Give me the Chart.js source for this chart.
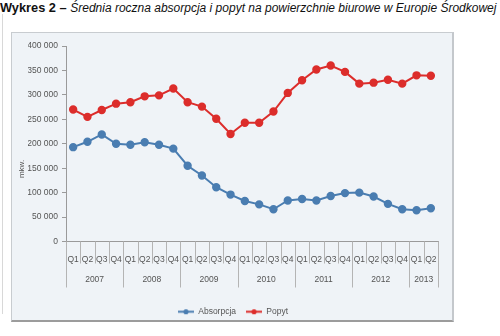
<!DOCTYPE html>
<html>
<head>
<meta charset="utf-8">
<script src="https://cdn.jsdelivr.net/npm/chart.js@4.4.0/dist/chart.umd.min.js"></script>
<style>
  html, body { margin: 0; padding: 0; background: #fff; }
  body { width: 500px; height: 336px; position: relative; overflow: hidden; font-family: "Liberation Sans", Arial, sans-serif; }
  .title { position: absolute; left: 0; top: 0; font-size: 12px; white-space: nowrap; color: #111; }
  .title b { font-weight: bold; font-size: 12.8px; }
  .title i { font-style: italic; }
  .edge { position: absolute; left: 2px; top: 14px; width: 1px; height: 300px; background: #d8d8d8; }
  .box { position: absolute; left: 11px; top: 32px; width: 440px; height: 287px; background: #eff3f7;
         border: 1px solid #c8ccd0; border-right: 2px solid #c4c8cc; border-bottom: 2px solid #9c9c9c; }
  .box canvas { position: absolute; left: 0; top: 0; }
</style>
</head>
<body>
<div class="title"><b>Wykres 2 – </b><i>Średnia roczna absorpcja i popyt na powierzchnie biurowe w Europie Środkowej</i></div>
<div class="edge"></div>
<div class="box"><canvas id="chart" width="440" height="293"></canvas></div>
<script>
// kwartały 2007 Q1 – 2013 Q2
const quarters = [
  "Q1", "Q2", "Q3", "Q4", "Q1", "Q2", "Q3", "Q4", "Q1", "Q2", "Q3", "Q4", "Q1",
  "Q2", "Q3", "Q4", "Q1", "Q2", "Q3", "Q4", "Q1", "Q2", "Q3", "Q4", "Q1", "Q2"
];
const years = ["2007", "2008", "2009", "2010", "2011", "2012", "2013"];
const quartersPerYear = [4, 4, 4, 4, 4, 4, 2];

// mkw.
const absorpcja = [
  193000, 204000, 219000, 200000, 198000, 203000, 198000, 190000,
  155000, 135000, 111000, 96000, 83000, 76000, 66000, 84000,
  87000, 84000, 93000, 99000, 100000, 92000, 77000, 66000, 64000, 68000
];
const popyt = [
  270000, 255000, 269000, 282000, 285000, 297000, 299000, 313000,
  285000, 276000, 251000, 220000, 243000, 243000, 266000, 304000,
  330000, 352000, 360000, 347000, 323000, 325000, 331000, 323000, 340000, 339000
];

const BLUE = "#4a7db1";
const RED = "#dc2d2b";
const GREY = "#9a9a9a";
const FONT = "'Liberation Sans', Arial, sans-serif";

function legendIcon(color) {
  const c = document.createElement("canvas");
  c.width = 16; c.height = 7;
  const ctx = c.getContext("2d");
  ctx.strokeStyle = color; ctx.lineWidth = 2;
  ctx.beginPath(); ctx.moveTo(0, 3.5); ctx.lineTo(16, 3.5); ctx.stroke();
  ctx.fillStyle = color;
  ctx.beginPath(); ctx.arc(8, 3.5, 2.6, 0, Math.PI * 2); ctx.fill();
  return c;
}
const icons = [legendIcon(BLUE), legendIcon(RED)];

// separatory kwartałów / lat i etykiety lat pod osią X
const yearAxis = {
  id: "yearAxis",
  afterDraw(chart) {
    const ctx = chart.ctx;
    const x = chart.scales.x;
    const top = chart.chartArea.bottom;
    const half = (x.getPixelForValue(1) - x.getPixelForValue(0)) / 2;
    const yearStarts = [0];
    quartersPerYear.forEach((n, i) => yearStarts.push(yearStarts[i] + n));

    ctx.save();
    ctx.strokeStyle = "#b4b4b4";
    ctx.lineWidth = 1;
    for (let k = 0; k <= quarters.length; k++) {
      const px = Math.round(x.getPixelForValue(k) - half) + 0.5;
      const long = yearStarts.includes(k);
      ctx.beginPath();
      ctx.moveTo(px, top);
      ctx.lineTo(px, top + (long ? 46 : 22));
      ctx.stroke();
    }

    ctx.fillStyle = "#555";
    ctx.font = "8.5px " + FONT;
    ctx.textAlign = "center";
    ctx.textBaseline = "middle";
    years.forEach((yr, i) => {
      const a = x.getPixelForValue(yearStarts[i]);
      const b = x.getPixelForValue(yearStarts[i + 1] - 1);
      ctx.fillText(yr, (a + b) / 2, top + 38);
    });

    ctx.translate(10, 136);
    ctx.rotate(-Math.PI / 2);
    ctx.font = "8px " + FONT;
    ctx.fillText("mkw.", 0, 0);
    ctx.restore();
  }
};

new Chart(document.getElementById("chart"), {
  type: "line",
  data: {
    labels: quarters,
    datasets: [
      {
        label: "Absorpcja",
        data: absorpcja,
        borderColor: BLUE,
        backgroundColor: BLUE,
        borderWidth: 2,
        pointRadius: 3.2,
        pointHoverRadius: 3.2,
        tension: 0
      },
      {
        label: "Popyt",
        data: popyt,
        borderColor: RED,
        backgroundColor: RED,
        borderWidth: 2,
        pointRadius: 3.2,
        pointHoverRadius: 3.2,
        tension: 0
      }
    ]
  },
  options: {
    responsive: false,
    animation: false,
    layout: { padding: { left: 16, right: 14, top: 13, bottom: 0 } },
    plugins: {
      tooltip: { enabled: false },
      legend: {
        position: "bottom",
        labels: {
          usePointStyle: true,
          pointStyleWidth: 16,
          padding: 10,
          color: "#555",
          font: { family: FONT, size: 8.5 },
          generateLabels(chart) {
            return chart.data.datasets.map((ds, i) => ({
              text: ds.label,
              pointStyle: icons[i],
              fillStyle: ds.borderColor,
              strokeStyle: ds.borderColor,
              lineWidth: 0,
              fontColor: "#555",
              datasetIndex: i
            }));
          }
        }
      }
    },
    scales: {
      x: {
        offset: true,
        grid: { display: false },
        border: { color: GREY },
        ticks: { color: "#555", padding: 5, maxRotation: 0, autoSkip: false, font: { family: FONT, size: 8.5 } },
        afterFit(s) { s.height = 56; }
      },
      y: {
        min: 0,
        max: 400000,
        grid: { drawOnChartArea: false, tickLength: 4, color: GREY },
        border: { color: GREY },
        ticks: {
          stepSize: 50000,
          color: "#555",
          padding: 4,
          font: { family: FONT, size: 8.5 },
          callback: v => String(v).replace(/\B(?=(\d{3})+(?!\d))/g, " ")
        },
        afterFit(s) { s.width = 38; }
      }
    }
  },
  plugins: [yearAxis]
});
</script>
</body>
</html>
